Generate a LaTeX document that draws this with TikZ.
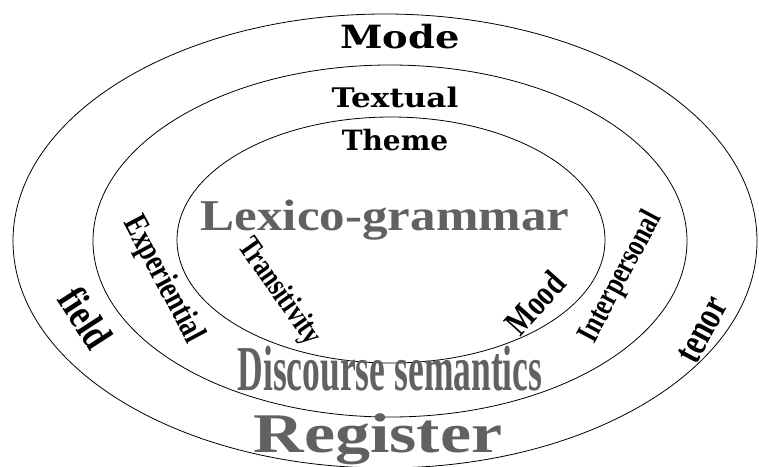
\documentclass[tikz,border=0pt]{standalone}
\usepackage{fontspec}
\setmainfont{Liberation Serif}
\newfontfamily\slabfont{DejaVu Serif}
\usetikzlibrary{shapes.geometric}
\tikzstyle{ring} = [ellipse, draw=black, line width=0.8pt, inner sep=0pt]
\tikzstyle{slab} = [font=\slabfont\bfseries\fontsize{28}{28}\selectfont, inner sep=0pt]
\tikzstyle{tilted} = [font=\bfseries\fontsize{32}{32}\selectfont, inner sep=0pt]
\tikzstyle{art} = [font=\bfseries, text=black!62, inner sep=0pt]

\begin{document}
\begin{tikzpicture}[x=1pt, y=1pt]
      \useasboundingbox (0,0) rectangle (759,-466);
      \node (outer)[ring, minimum width=744pt, minimum height=454pt] at (385,-241) {};
      \node (middle)[ring, minimum width=594pt, minimum height=352pt] at (390,-241) {};
      \node (inner)[ring, minimum width=428pt, minimum height=246pt] at (391,-240) {};
      \node (mode)[slab, font=\slabfont\bfseries\fontsize{32}{32}\selectfont, xscale=1.2] at (400,-37) {Mode};
      \node (textual)[slab, font=\slabfont\bfseries\fontsize{27}{27}\selectfont, xscale=1.15] at (395,-97) {Textual};
      \node (theme)[slab] at (395,-140) {Theme};
      \node (field)[tilted, font=\bfseries\fontsize{42}{42}\selectfont, rotate=-57, xscale=0.8] at (86,-318) {field};
      \node (exper)[tilted, font=\bfseries\fontsize{34}{34}\selectfont, rotate=-62, xscale=0.77] at (163,-280) {Experiential};
      \node (trans)[tilted, rotate=-55, xscale=0.77] at (279,-292) {Transitivity};
      \node (mood)[tilted, font=\bfseries\fontsize{36}{36}\selectfont, rotate=48, xscale=0.78] at (535,-303) {Mood};
      \node (inter)[tilted, rotate=62, xscale=0.77] at (621,-277) {Interpersonal};
      \node (tenor)[tilted, font=\bfseries\fontsize{40}{40}\selectfont, rotate=62, xscale=0.75] at (703,-330) {tenor};
      \node (lexico)[art, font=\bfseries\fontsize{44}{44}\selectfont, xscale=1.16] at (385,-220) {Lexico-grammar};
      \node (disc)[art, font=\bfseries\fontsize{64}{64}\selectfont, xscale=0.555] at (390,-369) {Discourse semantics};
      \node (register)[art, font=\bfseries\fontsize{56}{56}\selectfont, xscale=1.25] at (378,-439) {Register};
    \end{tikzpicture}
\end{document}
